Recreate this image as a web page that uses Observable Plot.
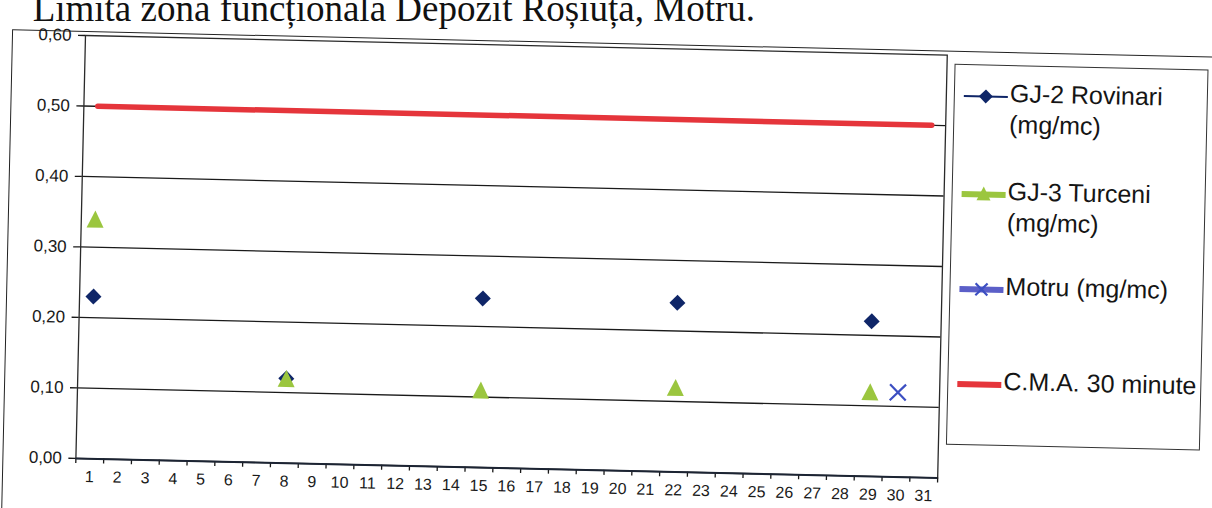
<!DOCTYPE html>
<html><head><meta charset="utf-8">
<script src="https://cdn.jsdelivr.net/npm/d3@7"></script>
<script src="https://cdn.jsdelivr.net/npm/@observablehq/plot@0.6"></script>
<style>
body{margin:0;width:1212px;height:508px;overflow:hidden;background:#fff;position:relative;font-family:"Liberation Sans",Arial,sans-serif}
#title{position:absolute;right:457px;top:-10px;font:37px/37px "Liberation Serif","Times New Roman",serif;white-space:nowrap;color:#111}
#rot{position:absolute;left:0;top:0;width:1212px;height:508px;transform-origin:85px 35px;transform:rotate(1.3deg)}
#frame{position:absolute;left:12px;top:31px;width:1400px;height:700px;border:1.5px solid #222}
#chart{position:absolute;left:0;top:0}
#legend{position:absolute;left:955px;top:44px;width:254px;height:381px;border:1.5px solid #333;box-sizing:border-box;background:#fff}
.sym{position:absolute;left:7px;width:48px;height:26px}
.lab{position:absolute;left:55px;font-size:25px;line-height:31px;color:#151515;white-space:nowrap}
</style></head>
<body>
<div id="title">Limita zona funcțională Depozit Roșiuța, Motru.</div>
<div id="rot">
  <div id="frame"></div>
  <div id="chart"></div>
  <div id="legend"></div>
</div>
<script>
// ---- data ----
const days = [1,2,3,4,5,6,7,8,9,10,11,12,13,14,15,16,17,18,19,20,21,22,23,24,25,26,27,28,29,30,31];
const yTicks = [0, 0.1, 0.2, 0.3, 0.4, 0.5, 0.6];
const rovinariDays = [1, 8, 15, 22, 29];
const rovinariValues = [0.23, 0.12, 0.24, 0.24, 0.22];
const turceniDays = [1, 8, 15, 22, 29];
const turceniValues = [0.34, 0.12, 0.11, 0.12, 0.12];
const motruDays = [30];
const motruValues = [0.12];
const cmaDays = [1, 31];
const cmaValues = [0.5, 0.5];
const seriesLabels = [["GJ-2 Rovinari", "(mg/mc)"], ["GJ-3 Turceni", "(mg/mc)"], ["Motru (mg/mc)"], ["C.M.A. 30 minute"]];

const navy = "#0f2668", green = "#9bc63f", blue = "#3c4fc2", red = "#e5353b";

const rov = rovinariDays.map((d, i) => ({day: d, v: rovinariValues[i]}));
const tur = turceniDays.map((d, i) => ({day: d, v: turceniValues[i]}));
const mot = motruDays.map((d, i) => ({day: d, v: motruValues[i]}));
const cma = cmaDays.map((d, i) => ({day: d, v: cmaValues[i]}));
const boundaries = [days[0] - 0.5, ...days.map(d => d + 0.5)];

// Excel-style marker shapes (bounding box centred on the value)
const diamond = {draw(ctx, size) { const r = Math.sqrt(size / Math.PI); ctx.moveTo(0, -r); ctx.lineTo(r, 0); ctx.lineTo(0, r); ctx.lineTo(-r, 0); ctx.closePath(); }};
const triangle = {draw(ctx, size) { const r = Math.sqrt(size / Math.PI); ctx.moveTo(0, -r); ctx.lineTo(r, r); ctx.lineTo(-r, r); ctx.closePath(); }};
const cross = {draw(ctx, size) { const r = Math.sqrt(size / Math.PI); ctx.moveTo(-r, -r); ctx.lineTo(r, r); ctx.moveTo(r, -r); ctx.lineTo(-r, r); }};

const fmt = d => d.toFixed(2).replace(".", ",");

const plot = Plot.plot({
  width: 960, height: 508,
  marginLeft: 85, marginRight: 13, marginTop: 35, marginBottom: 50,
  x: {domain: [boundaries[0], boundaries[boundaries.length - 1]], label: null},
  y: {domain: [yTicks[0], yTicks[yTicks.length - 1]], label: null},
  style: {fontFamily: "'Liberation Sans', Arial, sans-serif", background: "transparent", overflow: "visible", color: "#1a1a1a"},
  marks: [
    Plot.ruleY(yTicks.slice(1, -1), {stroke: "#1a1a1a", strokeWidth: 1.3}),
    Plot.frame({stroke: "#2a2a2a", strokeWidth: 1.3}),
    Plot.axisY({ticks: yTicks, tickFormat: fmt, tickSize: 7, tickPadding: 7, fontSize: 17, strokeWidth: 1.3, strokeOpacity: 1, label: null}),
    Plot.axisX({ticks: boundaries, tickSize: 5, tickFormat: () => "", strokeWidth: 1.3, strokeOpacity: 1, label: null}),
    Plot.axisX({ticks: days, tickSize: 0, tickPadding: 12, fontSize: 16, label: null}),
    Plot.ruleY([0], {stroke: "#1c2433", strokeWidth: 2}),
    Plot.line(cma, {x: "day", y: "v", stroke: red, strokeWidth: 5.5}),
    Plot.dot(rov, {x: "day", y: "v", symbol: diamond, r: 8, fill: navy, stroke: "none"}),
    Plot.dot(tur, {x: "day", y: "v", symbol: triangle, r: 8.5, fill: green, stroke: "none"}),
    Plot.dot(mot, {x: "day", y: "v", symbol: cross, r: 8, fill: "none", stroke: blue, strokeWidth: 2.2})
  ]
});
document.getElementById("chart").appendChild(plot);

// ---- legend ----
const legend = document.getElementById("legend");
const rowY = [31, 129, 224, 319];
const symSvg = [
  `<line x1="2" y1="13" x2="46" y2="13" stroke="${navy}" stroke-width="2"/><path d="M24 6 L31 13 L24 20 L17 13Z" fill="${navy}"/>`,
  `<line x1="2" y1="13" x2="46" y2="13" stroke="${green}" stroke-width="6"/><path d="M24 5 L31 19 L17 19Z" fill="${green}"/>`,
  `<line x1="2" y1="13" x2="46" y2="13" stroke="#5b5fc8" stroke-width="6"/><path d="M18 7 L30 19 M30 7 L18 19" stroke="${blue}" stroke-width="2.2"/>`,
  `<line x1="2" y1="13" x2="46" y2="13" stroke="${red}" stroke-width="6"/>`
];
seriesLabels.forEach((lines, i) => {
  const s = document.createElement("div");
  s.className = "sym"; s.style.top = (rowY[i] - 13) + "px";
  s.innerHTML = `<svg width="48" height="26">${symSvg[i]}</svg>`;
  legend.appendChild(s);
  const t = document.createElement("div");
  t.className = "lab"; t.style.top = (rowY[i] - 19) + "px";
  t.innerHTML = lines.join("<br>");
  legend.appendChild(t);
});
</script>
</body></html>
